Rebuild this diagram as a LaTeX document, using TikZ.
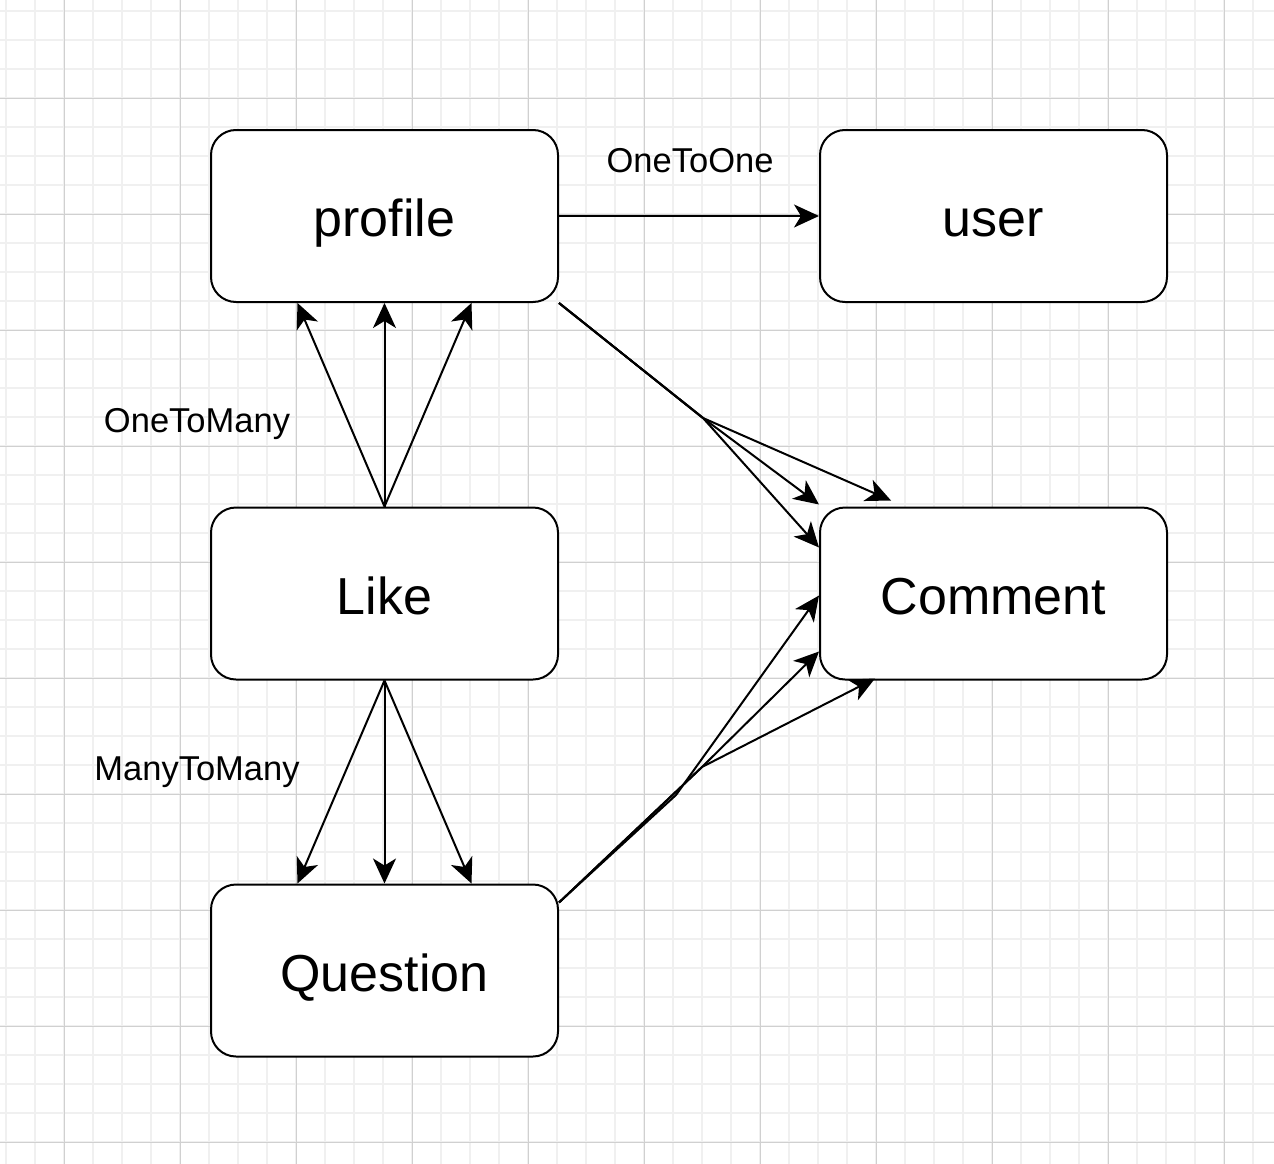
\documentclass[tikz,border=0pt]{standalone}
\usepackage{fontspec}
\setmainfont{Liberation Sans}
\usetikzlibrary{arrows.meta}
\definecolor{gridminor}{HTML}{F0F0F0}
\definecolor{gridmajor}{HTML}{D0D0D0}
\tikzset{
  entity/.style={draw, line width=2pt, rounded corners=25pt, fill=white,
    minimum width=347pt, minimum height=172pt, inner sep=0pt,
    text height=41pt, text depth=0pt,
    font=\fontsize{52}{58}\selectfont},
  lbl/.style={font=\fontsize{34.5}{40}\selectfont, inner sep=0pt, anchor=base},
  conn/.style={line width=2pt, -{Stealth[length=25pt,width=23pt,inset=7pt]}},
  minorline/.style={gridminor, line width=1.2pt},
  majorline/.style={gridmajor, line width=1pt}
}
\begin{document}
\begin{tikzpicture}[x=1pt,y=-1pt]
\useasboundingbox (0,0) rectangle (1274,1164);
\fill[white] (0,0) rectangle (1274,1164);
% grid
\foreach \x in {6,35,...,1274} \draw[minorline] (\x,0) -- (\x,1164);
\foreach \y in {11,40,...,1164} \draw[minorline] (0,\y) -- (1274,\y);
\foreach \x in {64,180,...,1274} \draw[majorline] (\x,0) -- (\x,1164);
\foreach \y in {98,214,...,1164} \draw[majorline] (0,\y) -- (1274,\y);
% nodes
\node[entity] (profile) at (384.5,216) {profile};
\node[entity] (user) at (993.5,216) {user};
\node[entity] (like) at (384.5,593.5) {Like};
\node[entity] (comment) at (993.5,593.5) {Comment};
\node[entity] (question) at (384.5,970.5) {Question};
% labels
\node[lbl] (l1) at (690,172) {OneToOne};
\node[lbl] (l2) at (197,432) {OneToMany};
\node[lbl] (l3) at (197,780) {ManyToMany};
% waypoints
\coordinate (w1) at (703,418);
\coordinate (w2) at (676,795);
\coordinate (w3) at (702,767);
% profile -> user
\draw[conn] (profile.east) -- (user.west);
% like -> profile
\draw[conn] (like.north) -- ([xshift=-87pt]profile.south);
\draw[conn] (like.north) -- (profile.south);
\draw[conn] (like.north) -- ([xshift=87pt]profile.south);
% like -> question
\draw[conn] (like.south) -- ([xshift=-87pt]question.north);
\draw[conn] (like.south) -- (question.north);
\draw[conn] (like.south) -- ([xshift=87pt]question.north);
% profile -> comment
\draw[conn] (profile.south east) -- (w1) -- ([yshift=2pt]comment.north west);
\draw[conn] (profile.south east) -- (w1) -- ([yshift=-41pt]comment.north west);
\draw[conn] (profile.south east) -- (w1) -- ([xshift=72pt,yshift=6pt]comment.north west);
% question -> comment
\draw[conn] ([yshift=-19pt]question.north east) -- (w2) -- ([yshift=-2pt]comment.west);
\draw[conn] ([yshift=-19pt]question.north east) -- (w3) -- ([yshift=-58pt]comment.west);
\draw[conn] ([yshift=-19pt]question.north east) -- (w3) -- ([xshift=56pt,yshift=2pt]comment.south west);
\end{tikzpicture}
\end{document}
